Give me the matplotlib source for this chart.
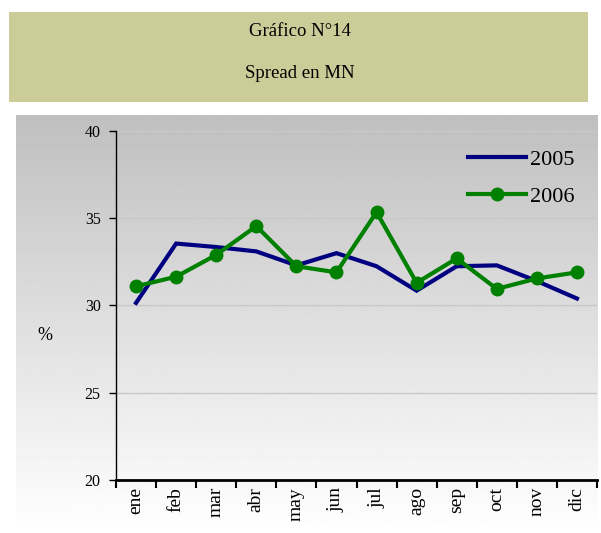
import numpy as np
import matplotlib
matplotlib.use("Agg")
import matplotlib.pyplot as plt
from matplotlib.patches import Rectangle

# data
months = ["ene", "feb", "mar", "abr", "may", "jun",
          "jul", "ago", "sep", "oct", "nov", "dic"]
spread_2005 = [30.15, 33.55, 33.35, 33.1, 32.3, 33.0,
               32.25, 30.85, 32.25, 32.3, 31.4, 30.4]
spread_2006 = [31.1, 31.65, 32.9, 34.55, 32.25, 31.9,
               35.35, 31.3, 32.7, 30.95, 31.55, 31.9]
yticks = [20, 25, 30, 35, 40]

W, H = 601, 533
plt.rcParams['font.family'] = ['Liberation Serif', 'DejaVu Serif']

fig = plt.figure(figsize=(W / 100, H / 100), dpi=100)

# header box
fig.patches.append(Rectangle((9 / W, 1 - 102 / H), (588 - 9) / W, (102 - 12) / H,
                             transform=fig.transFigure, facecolor="#cccc99",
                             edgecolor="none", zorder=0))
fig.text(300 / W, 1 - 32 / H, "Gráfico N°14", ha="center", va="center", fontsize=13.5)
fig.text(300 / W, 1 - 73 / H, "Spread en MN", ha="center", va="center", fontsize=13.5)

# gray gradient panel
bg = fig.add_axes([16 / W, 1 - 530 / H, (598 - 16) / W, (530 - 115) / H], zorder=0)
grad = np.linspace(0.75, 1.0, 256).reshape(-1, 1)
bg.imshow(grad, aspect="auto", cmap="gray", vmin=0, vmax=1,
          extent=[0, 1, 0, 1], origin="upper")
bg.set_axis_off()

ax = fig.add_axes([116 / W, 1 - 480 / H, (597 - 116) / W, (480 - 131) / H], zorder=1)
ax.set_facecolor("none")

x = np.arange(len(months))
ax.plot(x, spread_2005, color="#000080", lw=3, label="2005", solid_joinstyle="miter")
ax.plot(x, spread_2006, color="#008000", lw=3, marker="o", markersize=9,
        label="2006")

ax.set_xlim(-0.5, len(months) - 0.5)
ax.set_ylim(20, 40)
ax.set_yticks(yticks)
ax.set_yticklabels([str(v) for v in yticks], fontsize=11.5)
ax.yaxis.grid(True, color="#c8c8c8", lw=1)
ax.set_axisbelow(True)

ax.set_xticks(np.arange(len(months) + 1) - 0.5)
ax.set_xticklabels([])
ax.set_xticks(x, minor=True)
ax.set_xticklabels(months, minor=True, rotation=90, fontsize=14)
ax.tick_params(axis="x", which="major", length=6, width=1.5, direction="out")
ax.tick_params(axis="x", which="minor", length=0, pad=5)
ax.tick_params(axis="y", length=5, width=1, direction="out", pad=6)

for s in ["top", "right"]:
    ax.spines[s].set_visible(False)
ax.spines["left"].set_linewidth(1)
ax.spines["bottom"].set_linewidth(2)

fig.text(45 / W, 1 - 335 / H, "%", ha="center", va="center", fontsize=13)

ax.legend(loc="upper right", bbox_to_anchor=(0.995, 1.005), frameon=False,
          fontsize=16, handlelength=2.6, handletextpad=0.2, labelspacing=0.75)

fig.savefig("out.png", dpi=100)
